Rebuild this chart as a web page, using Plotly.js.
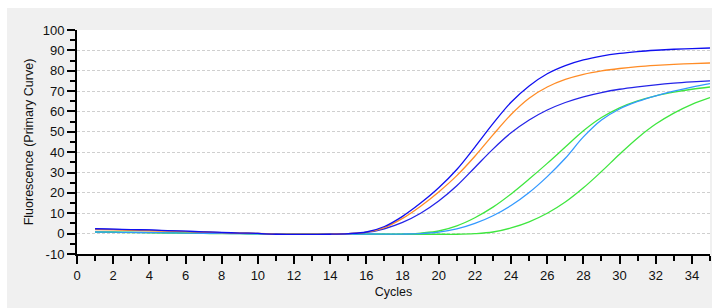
<!DOCTYPE html>
<html>
<head>
<meta charset="utf-8">
<script src="https://cdn.plot.ly/plotly-3.0.1.min.js"></script>
<style>
html,body{margin:0;padding:0;background:#ffffff;width:712px;height:308px;overflow:hidden;}
#chart{position:absolute;left:7px;top:8px;width:705px;height:300px;}
</style>
</head>
<body>
<div id="chart"></div>
<script>
var cycles = [1,2,3,4,5,6,7,8,9,10,11,12,13,14,15,16,17,18,19,20,21,22,23,24,25,26,27,28,29,30,31,32,33,34,35];

var blueTop   = [2.4,2.2,2.0,1.8,1.5,1.2,0.9,0.6,0.3,0.1,-0.3,-0.4,-0.4,-0.3,0.0,0.8,3.5,8.5,15,22.5,31.5,42.5,54,64.5,72.5,78.5,82.5,85.3,87.2,88.5,89.4,90.05,90.55,90.9,91.15];
var orange    = [2.0,1.8,1.6,1.4,1.2,1.0,0.8,0.5,0.3,0.1,-0.2,-0.3,-0.3,-0.2,0.0,0.7,3.0,7.5,13.5,20.5,28.5,38,48.5,58.5,66.5,72,75.7,78.2,79.9,81.1,82,82.65,83.15,83.5,83.8];
var blueLow   = [2.3,2.1,1.9,1.7,1.4,1.1,0.8,0.5,0.3,0.1,-0.3,-0.4,-0.4,-0.3,0.0,0.6,2.4,5.5,10,16,23.5,32.5,41.5,49.5,55.8,60.7,64.4,67.2,69.3,70.9,72.1,73.1,73.9,74.5,75.0];
var greenHigh = [0.9,0.8,0.7,0.6,0.5,0.4,0.3,0.2,0.1,0.0,-0.2,-0.3,-0.3,-0.3,-0.3,-0.3,-0.3,-0.3,0.3,1.3,3.8,7.8,13,19.5,26.8,34.5,42.5,50.5,57,61.8,65.2,67.7,69.5,70.9,72];
var lightBlue = [0.8,0.7,0.6,0.5,0.4,0.3,0.2,0.1,0.0,-0.1,-0.2,-0.3,-0.3,-0.3,-0.3,-0.2,-0.2,-0.2,0.0,0.7,2.3,5,8.8,13.8,20.2,28,37,47.5,55.8,61.2,64.9,67.7,70,72,73.7];
var greenLow  = [0.7,0.6,0.5,0.4,0.3,0.2,0.1,0.0,0.0,-0.1,-0.2,-0.3,-0.3,-0.3,-0.3,-0.3,-0.3,-0.3,-0.3,-0.3,-0.3,0.0,0.8,2.8,5.8,10,15.5,22.5,30.5,39,47,53.8,59.2,63.5,66.8];

var yTickVals   = [-10,0,10,20,30,40,50,60,70,80,90,100];
var yTickLabels = ['-10','0','10','20','30','40','50','60','70','80','90','100'];

var series = [
  {y: greenLow,  color: '#3fe63f'},
  {y: greenHigh, color: '#3fe63f'},
  {y: lightBlue, color: '#3399ff'},
  {y: blueLow,   color: '#2424e8'},
  {y: orange,    color: '#ff8c26'},
  {y: blueTop,   color: '#1010f0'}
];

var traces = series.map(function(s){
  return {x: cycles, y: s.y, type: 'scatter', mode: 'lines',
          line: {color: s.color, width: 1.3, shape: 'spline', smoothing: 1},
          hoverinfo: 'skip', showlegend: false};
});

var fontFam = '"Liberation Sans", Arial, sans-serif';

var layout = {
  width: 705, height: 300,
  paper_bgcolor: '#f0f0f0',
  plot_bgcolor: '#ffffff',
  margin: {l: 70, r: 2, t: 22, b: 54},
  font: {family: fontFam, size: 13, color: '#111111'},
  showlegend: false,
  xaxis: {
    range: [0, 35], tick0: 0, dtick: 2,
    ticks: 'outside', ticklen: 8, tickwidth: 2, tickcolor: '#000',
    showline: true, linecolor: '#000', linewidth: 2,
    showgrid: false, zeroline: false,
    minor: {dtick: 1, tick0: 0, ticks: 'outside', ticklen: 5, tickwidth: 2, tickcolor: '#000', showgrid: false},
    tickfont: {size: 13},
    title: {text: 'Cycles', font: {size: 12.5}, standoff: 6}
  },
  yaxis: {
    range: [-10, 100], tickmode: 'array', tickvals: yTickVals, ticktext: yTickLabels,
    ticks: 'outside', ticklen: 8, tickwidth: 2, tickcolor: '#000',
    showline: true, linecolor: '#000', linewidth: 2,
    showgrid: true, gridcolor: '#cfcfcf', griddash: '3px,2px', gridwidth: 1,
    zeroline: false,
    minor: {dtick: 5, tick0: 0, ticks: 'outside', ticklen: 5, tickwidth: 2, tickcolor: '#000', showgrid: false},
    tickfont: {size: 13},
    title: {text: 'Fluorescence (Primary Curve)', font: {size: 12.5}, standoff: 6}
  }
};

Plotly.newPlot('chart', traces, layout, {staticPlot: true, displayModeBar: false});
</script>
</body>
</html>
